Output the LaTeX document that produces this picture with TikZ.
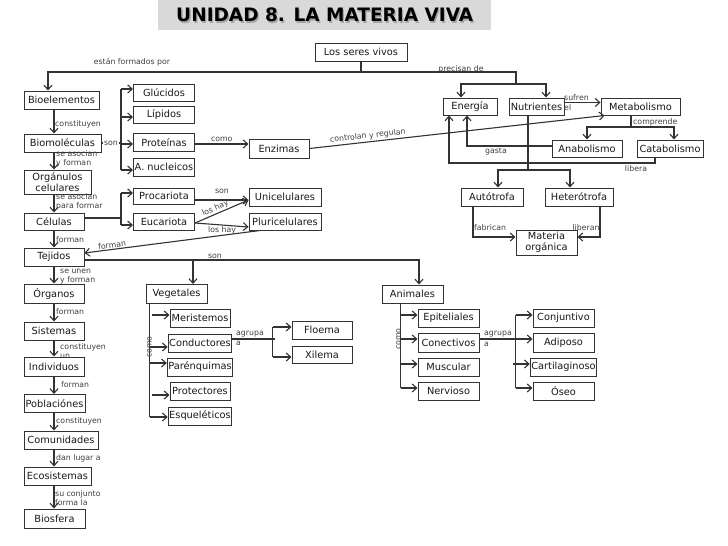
\documentclass[tikz,border=0pt]{standalone}
\usepackage{fontspec}
\setmainfont{DejaVu Sans}
\usetikzlibrary{arrows.meta,calc}
\definecolor{ink}{HTML}{333333}
\definecolor{lab}{HTML}{404040}
\definecolor{titlebg}{HTML}{D9D9D9}
\begin{document}
\begin{tikzpicture}[x=1pt,y=-1pt,
  box/.style={draw=ink, line width=1pt, fill=white, inner xsep=1pt, inner ysep=0pt,
    font=\fontsize{9.8}{11}\selectfont, text=black!90, align=center},
  lbl/.style={font=\fontsize{7.8}{9}\selectfont, text=lab, inner sep=0pt},
  ln/.style={draw=ink, line width=1.1pt},
  arr/.style={ln, -{Straight Barb[length=4.5pt,width=8pt]}},
  rarr/.style={ln, {Straight Barb[length=4.5pt,width=8pt]}-},
]
\fill[white] (0,0) rectangle (728,546);
\path[use as bounding box] (0,0) rectangle (728,546);

% title
\node[fill=titlebg, minimum width=333pt, minimum height=30pt, anchor=north west, inner sep=0pt] (title) at (158,0) {};
\node[font=\fontsize{18.5}{20}\bfseries\selectfont, text=gray!70] at ([xshift=1.3pt,yshift=-1.5pt]title.center) {UNIDAD 8. LA MATERIA VIVA};
\node[font=\fontsize{18.5}{20}\bfseries\selectfont, text=black] (titletext) at (title.center) {UNIDAD 8. LA MATERIA VIVA};

% labels that lie below boxes
\node[lbl,anchor=west,align=left] at (60,351.5) {constituyen\\un};

% boxes
\node[box,minimum width=92,minimum height=18] (seres) at (361,52) {Los seres vivos};
\node[box,minimum width=75,minimum height=18] (bio) at (61.5,100) {Bioelementos};
\node[box,minimum width=61,minimum height=17] (glu) at (164,92.5) {Glúcidos};
\node[box,minimum width=61,minimum height=17] (lip) at (164,114.5) {Lípidos};
\node[box,minimum width=61,minimum height=18] (prot) at (164,142.5) {Proteínas};
\node[box,minimum width=61,minimum height=18] (anuc) at (164,167) {A. nucleicos};
\node[box,minimum width=77,minimum height=18] (biom) at (62.5,143) {Biomoléculas};
\node[box,minimum width=60,minimum height=19] (enz) at (279,148.5) {Enzimas};
\node[box,minimum width=54,minimum height=17] (energia) at (470,106.5) {Energía};
\node[box,minimum width=55,minimum height=17] (nutr) at (536.5,106.5) {Nutrientes};
\node[box,minimum width=79,minimum height=17] (meta) at (640.5,106.5) {Metabolismo};
\node[box,minimum width=70,minimum height=17] (ana) at (587,148.5) {Anabolismo};
\node[box,minimum width=66,minimum height=17] (cata) at (670,148.5) {Catabolismo};
\node[box,minimum width=62,minimum height=18] (auto) at (492,197) {Autótrofa};
\node[box,minimum width=68,minimum height=18] (hetero) at (579,197) {Heterótrofa};
\node[box,minimum width=61,minimum height=25] (mat) at (546.5,242.5) {Materia\\orgánica};
\node[box,minimum width=67,minimum height=24] (org) at (57.5,182) {Orgánulos\\celulares};
\node[box,minimum width=60,minimum height=17] (cel) at (54,221.5) {Células};
\node[box,minimum width=61,minimum height=16] (proc) at (164,196) {Procariota};
\node[box,minimum width=61,minimum height=17] (euc) at (164,221.5) {Eucariota};
\node[box,minimum width=72,minimum height=18] (uni) at (285,197) {Unicelulares};
\node[box,minimum width=72,minimum height=17] (pluri) at (285,221.5) {Pluricelulares};
\node[box,minimum width=60,minimum height=18] (tej) at (54,257) {Tejidos};
\node[box,minimum width=60,minimum height=19] (organos) at (54,293.5) {Órganos};
\node[box,minimum width=60,minimum height=18] (sist) at (54,331) {Sistemas};
\node[box,minimum width=60,minimum height=19] (indiv) at (54,366.5) {Individuos};
\node[box,minimum width=61,minimum height=18] (pobl) at (54.5,403.5) {Poblaciónes};
\node[box,minimum width=74,minimum height=18] (comun) at (61,440) {Comunidades};
\node[box,minimum width=67,minimum height=18] (eco) at (57.5,476) {Ecosistemas};
\node[box,minimum width=61,minimum height=19] (bios) at (54.5,518.5) {Biosfera};
\node[box,minimum width=61,minimum height=19] (veg) at (176.5,294) {Vegetales};
\node[box,minimum width=60,minimum height=18] (meri) at (200,318) {Meristemos};
\node[box,minimum width=60,minimum height=18] (cond) at (200,343) {Conductores};
\node[box,minimum width=60,minimum height=18] (paren) at (200,367) {Parénquimas};
\node[box,minimum width=60,minimum height=18] (prote) at (200,391) {Protectores};
\node[box,minimum width=60,minimum height=18] (esque) at (200,416) {Esqueléticos};
\node[box,minimum width=60,minimum height=18] (floema) at (322,330) {Floema};
\node[box,minimum width=60,minimum height=17] (xilema) at (322,354.5) {Xilema};
\node[box,minimum width=61,minimum height=18] (anim) at (412.5,294) {Animales};
\node[box,minimum width=61,minimum height=18] (epi) at (448.5,318) {Epiteliales};
\node[box,minimum width=61,minimum height=19] (conec) at (448.5,342.5) {Conectivos};
\node[box,minimum width=61,minimum height=18] (musc) at (448.5,367) {Muscular};
\node[box,minimum width=61,minimum height=18] (nerv) at (448.5,391) {Nervioso};
\node[box,minimum width=61,minimum height=18] (conj) at (563.5,318) {Conjuntivo};
\node[box,minimum width=61,minimum height=19] (adip) at (563.5,342.5) {Adiposo};
\node[box,minimum width=61,minimum height=18] (cart) at (563.5,367) {Cartilaginoso};
\node[box,minimum width=61,minimum height=18] (oseo) at (563.5,391) {Óseo};

% top connectors
\coordinate (jT) at (361,72);
\coordinate (jP) at (516,84);
\draw[ln] (seres.south) -- (jT);
\draw[arr] (jT) -| ([xshift=-13.5pt]bio.north);
\draw[ln] (jT) -| (jP);
\draw[arr] (jP) -| ([xshift=-9pt]energia.north);
\draw[arr] (jP) -| ([xshift=9.5pt]nutr.north);

% left column
\coordinate (lx) at (54,0);
\draw[arr] (bio.south -| lx) -- (biom.north -| lx);
\draw[arr] (biom.south -| lx) -- (org.north -| lx);
\draw[arr] (org.south -| lx) -- (cel.north -| lx);
\draw[arr] (cel.south -| lx) -- (tej.north -| lx);
\draw[arr] (tej.south -| lx) -- (organos.north -| lx);
\draw[arr] (organos.south -| lx) -- (sist.north -| lx);
\draw[arr] (sist.south -| lx) -- (indiv.north -| lx);
\draw[arr] (indiv.south -| lx) -- (pobl.north -| lx);
\draw[arr] (pobl.south -| lx) -- (comun.north -| lx);
\draw[arr] (comun.south -| lx) -- (eco.north -| lx);
\draw[arr] (eco.south -| lx) -- (bios.north -| lx);

% biomoleculas bracket
\draw[rarr] ([yshift=3.5pt]glu.west) -- ++(-12,0) coordinate (b1);
\draw[rarr] ([yshift=-2.5pt]lip.west) -- ++(-12,0);
\draw[rarr] ([yshift=-1.5pt]prot.west) -- ++(-12,0);
\draw[rarr] ([yshift=-3pt]anuc.west) -- ++(-12,0) coordinate (b4);
\draw[ln] (b1) -- (b4);
\draw[ln] (biom.east) -- (biom.east -| b1);
\node[lbl,fill=white,inner xsep=1pt] at (111,143) {son};

% proteinas -> enzimas -> metabolismo
\draw[arr] ([yshift=-1.5pt]prot.east) -- ([yshift=-1.5pt]prot.east -| enz.west)
  node[lbl,midway,above=2pt] {como};
\draw[arr] (enz.east) -- ([xshift=4pt]meta.south west)
  node[lbl,sloped,above=1.5pt,pos=0.2] {controlan y regulan};

% nutrientes -> metabolismo
\draw[arr] ([yshift=4pt]nutr.east) -- ([yshift=4pt]nutr.east -| meta.west);
\node[lbl,anchor=west,align=left,font=\fontsize{7.8}{10.5}\selectfont] at (564,102.5) {sufren\\el};

% metabolismo -> anabolismo / catabolismo
\coordinate (cm) at (631,127);
\draw[ln] (cm |- meta.south) -- (cm);
\draw[arr] (cm) -| (ana.north);
\draw[arr] (cm) -| ([xshift=4pt]cata.north);
\node[lbl,anchor=west] at (633,122) {comprende};

% anabolismo -> energia (gasta)
\draw[arr] ([yshift=2.5pt]ana.west) -| ([xshift=-3pt]energia.south);
\node[lbl,anchor=north] at (496,147.5) {gasta};

% catabolismo -> energia (libera)
\coordinate (cl1) at (655,163);
\coordinate (cl2) at (449,163);
\draw[arr] (cl1 |- cata.south) -- (cl1) -- (cl2) -- ([xshift=-21pt]energia.south);
\node[lbl] at (636,168.5) {libera};

% nutrientes -> autotrofa / heterotrofa
\coordinate (cn) at (528,170);
\draw[ln] (cn |- nutr.south) -- (cn);
\draw[arr] (cn) -| ([xshift=6pt]auto.north);
\draw[arr] (cn) -| ([xshift=-9pt]hetero.north);

% -> materia organica
\draw[arr] ([xshift=-19pt]auto.south) |- ([yshift=5.5pt]mat.west);
\draw[arr] ([xshift=21pt]hetero.south) |- ([yshift=5.5pt]mat.east);
\node[lbl,anchor=west] at (474,227.5) {fabrican};
\node[lbl] at (586,227.5) {liberan};

% celulas bracket
\draw[rarr] ([yshift=3pt]proc.west) -- ++(-12,0) coordinate (c1);
\draw[rarr] ([yshift=-3.5pt]euc.west) -- ++(-12,0) coordinate (c2);
\draw[ln] (c1) -- (c2);
\draw[ln] ([yshift=3.5pt]cel.east) -- ++(37,0);

% procariota / eucariota -> uni / pluri
\draw[arr] ([yshift=-4pt]proc.east) -- ([yshift=-4pt]proc.east -| uni.west);
\node[lbl] at (222,191) {son};
\draw[arr] ([yshift=-1.5pt]euc.east) -- ([yshift=-3pt]uni.west)
  node[lbl,sloped,above=1pt,pos=0.42] {los hay};
\draw[arr] ([yshift=-1.5pt]euc.east) -- ([yshift=-5.5pt]pluri.west);
\node[lbl] at (222,230) {los hay};

% pluricelulares -> tejidos
\draw[rarr] ([yshift=4pt]tej.east) -- ([xshift=-25pt]pluri.south)
  node[lbl,sloped,above=1pt,pos=0.16] {forman};

% tejidos -> vegetales / animales
\coordinate (vj) at (193,260);
\draw[arr] ([yshift=-3pt]tej.east) -| ([xshift=6.5pt]anim.north);
\draw[arr] (vj) -- (vj |- veg.north);
\node[lbl] at (215,256) {son};

% left column labels
\node[lbl,anchor=west] at (55,124) {constituyen};
\node[lbl,anchor=west,align=left] at (56,158.5) {se asocian\\y forman};
\node[lbl,anchor=west,align=left] at (56,201.5) {se asocian\\para formar};
\node[lbl,anchor=west] at (56,240) {forman};
\node[lbl,anchor=west,align=left] at (60,277) {se unen\\y forman};
\node[lbl,anchor=west] at (56,312) {forman};
\node[lbl,anchor=west] at (61,385) {forman};
\node[lbl,anchor=west] at (56,421) {constituyen};
\node[lbl,anchor=west] at (56,458) {dan lugar a};
\node[lbl,anchor=west,align=left] at (55,498) {su conjunto\\forma la};
\node[lbl] at (132,62) {están formados por};
\node[lbl] at (461,69) {precisan de};

% vegetales bracket
\draw[rarr] ([yshift=3pt]meri.west) -- ++(-18,0);
\draw[rarr] ([yshift=-4pt]cond.west) -- ++(-18,0);
\draw[rarr] ([yshift=4pt]paren.west) -- ++(-18,0);
\draw[rarr] ([yshift=-4pt]prote.west) -- ++(-18,0);
\draw[rarr] ([yshift=-1pt]esque.west) -- ++(-18,0) coordinate (vend);
\draw[ln] (veg.south -| vend) -- (vend);
\node[lbl,rotate=90,anchor=south] at (152,347) {como};

% conductores -> floema / xilema
\draw[ln] ([yshift=4pt]cond.east) -- ++(43,0);
\draw[rarr] ([yshift=3pt]floema.west) -- ++(-19,0) coordinate (f1);
\draw[rarr] ([yshift=-2.5pt]xilema.west) -- ++(-19,0) coordinate (f2);
\draw[ln] (f1) -- (f2);
\node[lbl,anchor=west,align=left,font=\fontsize{7.8}{10.5}\selectfont] at (236,338.5) {agrupa\\a};

% animales bracket
\draw[rarr] ([yshift=3pt]epi.west) -- ++(-17,0);
\draw[rarr] ([yshift=3.5pt]conec.west) -- ++(-17,0);
\draw[rarr] ([yshift=3pt]musc.west) -- ++(-17,0);
\draw[rarr] ([yshift=3pt]nerv.west) -- ++(-17,0) coordinate (aend);
\draw[ln] (anim.south -| aend) -- (aend);
\node[lbl,rotate=90,anchor=south] at (401,339) {como};

% conectivos -> tejidos conectivos
\draw[ln] ([yshift=3.5pt]conec.east) -- ++(37,0);
\draw[rarr] ([yshift=3pt]conj.west) -- ++(-17,0) coordinate (r1);
\draw[rarr] ([yshift=3.5pt]adip.west) -- ++(-17,0);
\draw[rarr] ([yshift=3pt]cart.west) -- ++(-17,0);
\draw[rarr] ([yshift=3pt]oseo.west) -- ++(-17,0) coordinate (r4);
\draw[ln] (r1) -- (r4);
\node[lbl,anchor=west,align=left,font=\fontsize{7.8}{10.5}\selectfont] at (484,339) {agrupa\\a};
\end{tikzpicture}
\end{document}
